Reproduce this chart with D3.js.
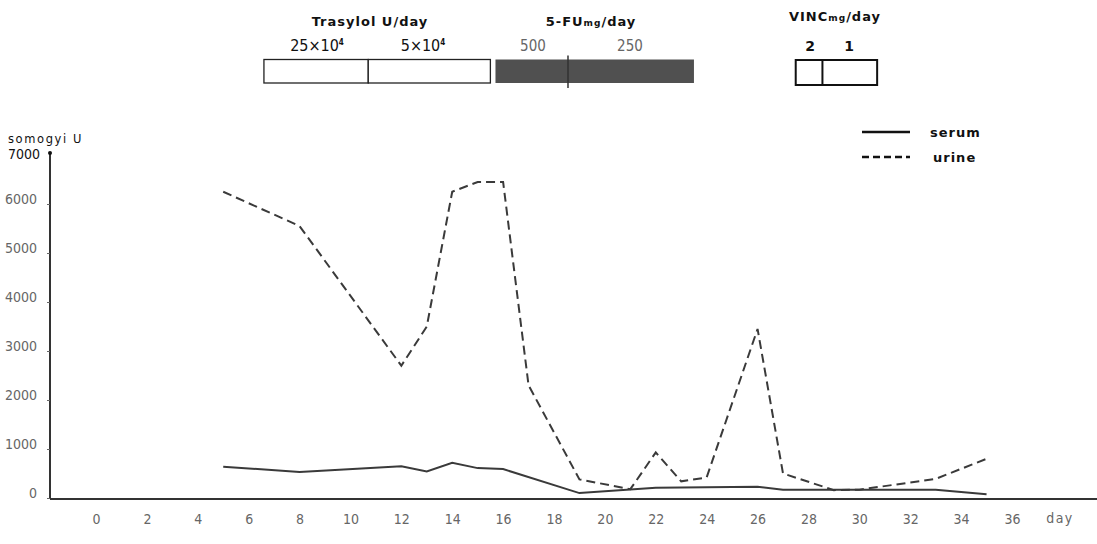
<!DOCTYPE html>
<html>
<head>
<meta charset="utf-8">
<script src="https://cdn.jsdelivr.net/npm/d3@7"></script>
<style>
  body { margin: 0; background: #fff; }
  svg { display: block; }
  .num { font-family: "Liberation Sans Narrow", "DejaVu Sans Condensed", sans-serif; font-size: 14px; fill: #666; }
  .hdr { font-family: "DejaVu Sans", sans-serif; font-weight: bold; font-size: 13px; fill: #111; letter-spacing: 1px; }
</style>
</head>
<body>
<div id="chart"></div>
<script>
// --- data ---
const xTicks = [0, 2, 4, 6, 8, 10, 12, 14, 16, 18, 20, 22, 24, 26, 28, 30, 32, 34, 36];
const yTicks = [0, 1000, 2000, 3000, 4000, 5000, 6000, 7000];

const serumDays = [5, 8, 12, 13, 14, 15, 16, 19, 22, 26, 27, 30, 33, 35];
const serumVals = [640, 530, 650, 540, 720, 610, 590, 100, 210, 230, 170, 170, 170, 75];

const urineDays = [5, 8, 12, 13, 14, 15, 16, 17, 19, 21, 22, 23, 24, 26, 27, 29, 30, 33, 35];
const urineVals = [6250, 5550, 2700, 3500, 6250, 6450, 6450, 2300, 380, 180, 930, 340, 420, 3450, 500, 160, 170, 390, 800];

// treatment periods (day ranges) shown above the chart
const trasylolSegs = [[6.6, 10.7, "25×10", "4"], [10.7, 15.5, "5×10", "4"]];
const fuSegs = [[15.7, 18.55, "500"], [18.55, 23.5, "250"]];
const vincSegs = [[27.5, 28.55, "2"], [28.55, 30.7, "1"]];

const W = 1097, H = 544;
const svg = d3.select("#chart").append("svg")
  .attr("width", W).attr("height", H);
svg.append("rect").attr("width", W).attr("height", H).attr("fill", "#fff");

const x = d3.scaleLinear().domain([0, 36]).range([96, 1012]);
const y = d3.scaleLinear().domain([0, 7000]).range([498, 155]);
const axisX = 50;

// x axis line
svg.append("line")
  .attr("x1", axisX).attr("x2", W)
  .attr("y1", y(0) + 1).attr("y2", y(0) + 1)
  .attr("stroke", "#333").attr("stroke-width", 2.2);

const xAxis = d3.axisBottom(x).tickValues(xTicks).tickSize(0).tickPadding(0);
const gx = svg.append("g").attr("transform", `translate(0,${y(0) + 21})`).call(xAxis);
gx.select(".domain").remove();
gx.selectAll("text").attr("class", "num").attr("font-family", null).attr("font-size", null)
  .attr("fill", null).attr("dy", "0.35em");
svg.append("text").attr("class", "num").attr("x", 1060).attr("y", y(0) + 25)
  .attr("text-anchor", "middle").style("letter-spacing", "1.5px").text("day");

// y axis
svg.append("line")
  .attr("x1", axisX).attr("x2", axisX)
  .attr("y1", y(7000) - 2).attr("y2", y(0) + 1)
  .attr("stroke", "#333").attr("stroke-width", 2);
svg.append("circle").attr("cx", axisX).attr("cy", y(7000) - 2).attr("r", 2).attr("fill", "#111");

const yAxis = d3.axisLeft(y).tickValues(yTicks.slice(0, -1)).tickFormat(d3.format("d"))
  .tickSize(3).tickPadding(10);
const gy = svg.append("g").attr("transform", `translate(${axisX},0)`).call(yAxis);
gy.select(".domain").remove();
gy.selectAll("line").attr("stroke", "#666");
gy.selectAll("text").attr("class", "num").attr("font-family", null).attr("font-size", null)
  .attr("fill", null).attr("dy", "-0.05em");

svg.append("text").attr("x", 8).attr("y", y(7000) + 4)
  .style("font-family", "'Liberation Sans Narrow', 'DejaVu Sans Condensed', sans-serif")
  .style("font-size", "14px").attr("fill", "#111").text("7000");
svg.append("text").attr("x", 8).attr("y", 143)
  .style("font-family", "'DejaVu Sans', sans-serif").style("font-size", "11.5px")
  .style("letter-spacing", "1.6px").attr("fill", "#111").text("somogyi U");

// lines
const line = d3.line().x(d => x(d[0])).y(d => y(d[1]));
const serum = serumDays.map((d, i) => [d, serumVals[i]]);
const urine = urineDays.map((d, i) => [d, urineVals[i]]);

svg.append("path").datum(serum).attr("d", line)
  .attr("fill", "none").attr("stroke", "#3a3a3a").attr("stroke-width", 2);
svg.append("path").datum(urine).attr("d", line)
  .attr("fill", "none").attr("stroke", "#3a3a3a").attr("stroke-width", 2)
  .attr("stroke-dasharray", "9,5");

// legend
const leg = svg.append("g");
leg.append("line").attr("x1", 862).attr("x2", 910).attr("y1", 132).attr("y2", 132)
  .attr("stroke", "#111").attr("stroke-width", 2.5);
leg.append("line").attr("x1", 862).attr("x2", 910).attr("y1", 157).attr("y2", 157)
  .attr("stroke", "#111").attr("stroke-width", 2.5).attr("stroke-dasharray", "7,4");
leg.append("text").attr("class", "hdr").attr("x", 930).attr("y", 137).text("serum");
leg.append("text").attr("class", "hdr").attr("x", 933).attr("y", 162).text("urine");

// treatment bars
const barY = 59.5, barH = 23.5;
function segBars(segs, fill, strokeW) {
  const g = svg.append("g");
  g.selectAll("rect").data(segs).enter().append("rect")
    .attr("x", d => x(d[0])).attr("y", barY)
    .attr("width", d => x(d[1]) - x(d[0])).attr("height", barH)
    .attr("fill", fill).attr("stroke", "#222").attr("stroke-width", strokeW);
  return g;
}
segBars(trasylolSegs, "#fff", 1.3);
segBars(fuSegs, "#505050", 0);
// small mark at 5-FU dose change
svg.append("line").attr("x1", x(fuSegs[1][0])).attr("x2", x(fuSegs[1][0]))
  .attr("y1", barY - 4).attr("y2", barY + barH + 5)
  .attr("stroke", "#333").attr("stroke-width", 1.5);
svg.append("rect").attr("x", x(vincSegs[0][0])).attr("y", 60)
  .attr("width", x(vincSegs[1][1]) - x(vincSegs[0][0])).attr("height", 25)
  .attr("fill", "#fff").attr("stroke", "#111").attr("stroke-width", 2);
svg.append("line").attr("x1", x(vincSegs[1][0])).attr("x2", x(vincSegs[1][0]))
  .attr("y1", 60).attr("y2", 85).attr("stroke", "#111").attr("stroke-width", 2);

// dose labels
const dose = svg.append("g");
trasylolSegs.forEach((s, i) => {
  const t = dose.append("text")
    .attr("x", i === 0 ? 317 : 423).attr("y", 51).attr("text-anchor", "middle")
    .style("font-family", "'Liberation Sans Narrow', 'DejaVu Sans Condensed', sans-serif")
    .style("font-size", "16px").attr("fill", "#111");
  t.append("tspan").text(s[2]);
  t.append("tspan").attr("dy", -6).style("font-size", "8px").style("font-weight", "bold").text(s[3]);
});
fuSegs.forEach((s, i) => {
  dose.append("text").attr("x", i === 0 ? 533 : 630).attr("y", 51).attr("text-anchor", "middle")
    .style("font-family", "'Liberation Sans Narrow', 'DejaVu Sans Condensed', sans-serif")
    .style("font-size", "15px").attr("fill", "#666").text(s[2]);
});
vincSegs.forEach((s, i) => {
  dose.append("text").attr("x", i === 0 ? 810 : 849).attr("y", 51).attr("text-anchor", "middle")
    .style("font-family", "'DejaVu Sans', sans-serif").style("font-weight", "bold")
    .style("font-size", "14px").attr("fill", "#111").text(s[2]);
});

// group titles
svg.append("text").attr("class", "hdr").attr("x", 370).attr("y", 26)
  .attr("text-anchor", "middle").text("Trasylol U/day");
const fuT = svg.append("text").attr("class", "hdr").attr("x", 591).attr("y", 26).attr("text-anchor", "middle");
fuT.append("tspan").text("5-FU");
fuT.append("tspan").style("font-size", "9px").text("mg");
fuT.append("tspan").text("/day");
const vT = svg.append("text").attr("class", "hdr").attr("x", 835).attr("y", 21).attr("text-anchor", "middle");
vT.append("tspan").text("VINC");
vT.append("tspan").style("font-size", "9px").text("mg");
vT.append("tspan").text("/day");
</script>
</body>
</html>
